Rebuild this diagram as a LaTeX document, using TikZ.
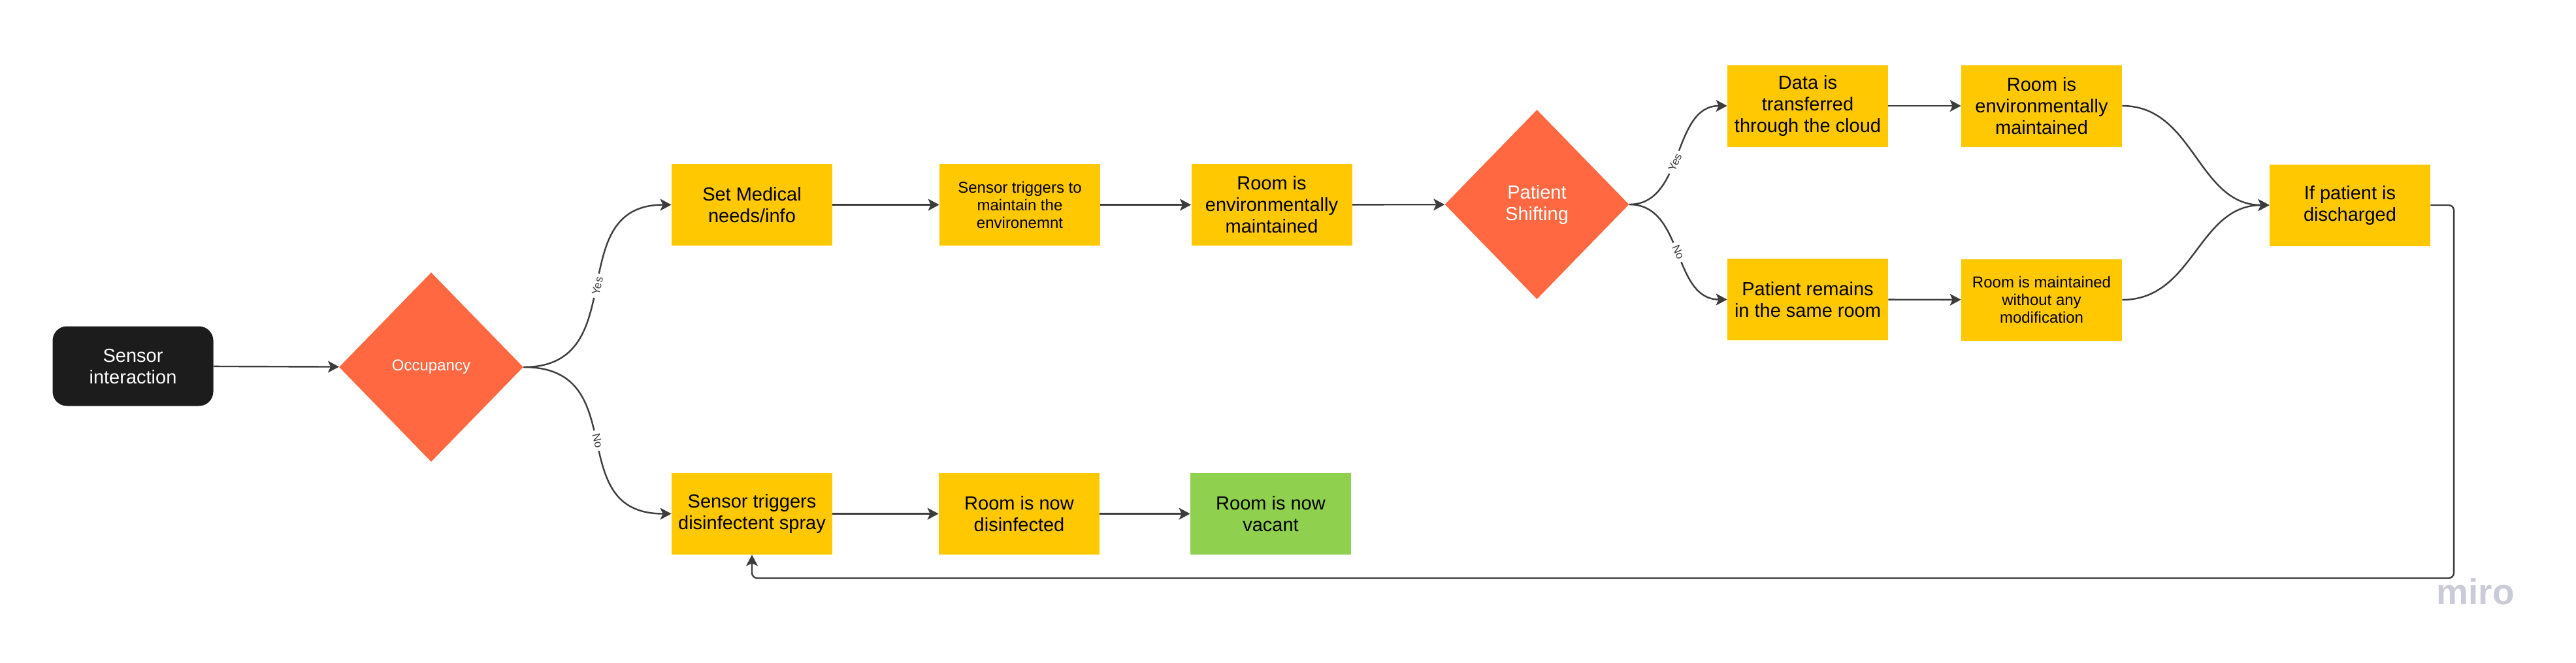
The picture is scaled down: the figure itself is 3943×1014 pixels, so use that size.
\documentclass[tikz,border=0pt]{standalone}
\usepackage{fontspec}
\setmainfont{Liberation Sans}
\usetikzlibrary{shapes.geometric,arrows.meta}
\definecolor{ybox}{HTML}{FFC800}
\definecolor{obox}{HTML}{FF6840}
\definecolor{gbox}{HTML}{8FD14F}
\definecolor{kbox}{HTML}{1C1C1C}
\definecolor{lcol}{HTML}{3C3C3C}
\definecolor{lbltxt}{HTML}{3C3C3C}
\definecolor{mirocol}{HTML}{CACAD8}
\begin{document}
\begin{tikzpicture}[x=0.5pt,y=-0.5pt,
  box/.style={fill=ybox, minimum width=123pt, minimum height=62.5pt, inner sep=0pt, align=center, font=\fontsize{14.5}{16.5}\selectfont, text=black},
  smalltxt/.style={font=\fontsize{12}{13.5}\selectfont},
  dia/.style={diamond, fill=obox, minimum width=141pt, minimum height=145pt, inner sep=0pt, align=center, text=white},
  conn/.style={draw=lcol, line width=1.2pt, -{Stealth[length=8.5pt,width=9pt,inset=2pt]}},
  lbl/.style={fill=white, text=lbltxt, font=\fontsize{8.5}{10}\selectfont, inner xsep=2.5pt, inner ysep=1pt, sloped}
]
\fill[white] (0,0) rectangle (3943,1014);
\useasboundingbox (0,0) rectangle (3943,1014);

% nodes
\node[fill=kbox, rounded corners=11pt, minimum width=123pt, minimum height=61pt, inner sep=0pt, align=center, text=white, font=\fontsize{14.5}{16.5}\selectfont] (si) at (203.5,560.5) {Sensor\\interaction};
\node[dia, font=\fontsize{12}{14}\selectfont] (occ) at (660,562) {Occupancy};
\node[box] (sm) at (1151,313.5) {Set Medical\\needs/info};
\node[box, smalltxt] (st) at (1561,313.5) {Sensor triggers to\\maintain the\\environemnt};
\node[box] (re1) at (1946.5,313.5) {Room is\\environmentally\\maintained};
\node[dia, font=\fontsize{14.5}{16.5}\selectfont] (ps) at (2352.5,313) {Patient\\Shifting};
\node[box] (dt) at (2767,162) {Data is\\transferred\\through the cloud};
\node[box] (pr) at (2767,458.5) {Patient remains\\in the same room};
\node[box] (re2) at (3125,162) {Room is\\environmentally\\maintained};
\node[box, smalltxt] (rm) at (3125,459) {Room is maintained\\without any\\modification};
\node[box] (ip) at (3597,314) {If patient is\\discharged};
\node[box] (sd) at (1151,786.5) {Sensor triggers\\disinfectent spray};
\node[box] (rd) at (1560,786.5) {Room is now\\disinfected};
\node[box, fill=gbox] (rv) at (1945,786.5) {Room is now\\vacant};

% connectors
\draw[conn] (si) -- (occ);
\draw[conn] (occ.east) .. controls +(170,0) and +(-170,0) .. node[lbl,pos=0.5] {Yes} (sm.west);
\draw[conn] (occ.east) .. controls +(170,0) and +(-170,0) .. node[lbl,pos=0.5] {No} (sd.west);
\draw[conn] (sm) -- (st);
\draw[conn] (st) -- (re1);
\draw[conn] (re1) -- (ps);
\draw[conn] (ps.east) .. controls +(85,0) and +(-85,0) .. node[lbl,pos=0.45] {Yes} (dt.west);
\draw[conn] (ps.east) .. controls +(85,0) and +(-85,0) .. node[lbl,pos=0.5] {No} (pr.west);
\draw[conn] (dt) -- (re2);
\draw[conn] (pr) -- (rm);
\draw[conn] (re2.east) .. controls +(110,0) and +(-110,0) .. (ip.west);
\draw[conn] (rm.east) .. controls +(110,0) and +(-110,0) .. (ip.west);
\draw[conn] (sd) -- (rd);
\draw[conn] (rd) -- (rv);
\coordinate (ret) at (3756,885);
\draw[conn, rounded corners=4pt] (ip.east) -| (ret) -| (sd.south);

% watermark
\node[text=mirocol, font=\fontsize{27.5}{30}\bfseries, inner sep=0pt] (miro) at (3789,906) {miro};
\end{tikzpicture}
\end{document}
